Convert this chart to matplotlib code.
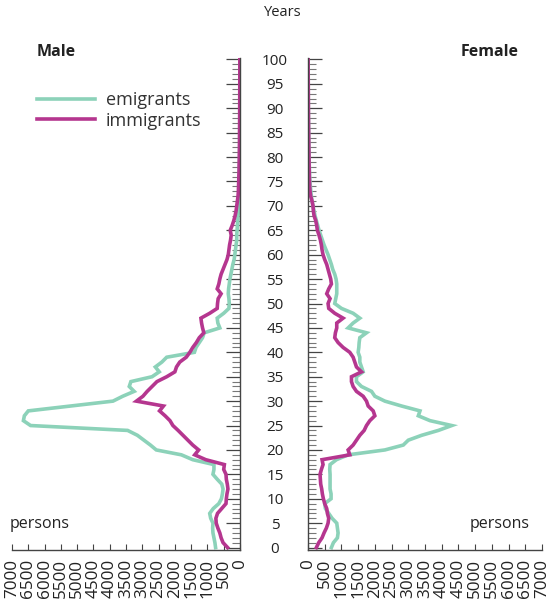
import matplotlib
matplotlib.use("Agg")
import matplotlib.pyplot as plt
from matplotlib.ticker import MultipleLocator

plt.rcParams['font.family'] = ['Open Sans', 'DejaVu Sans']

ages = list(range(0, 101))

male_emigrants = [750, 770, 800, 830, 840, 830, 900, 930, 820, 650,
                  570, 540, 520, 560, 700, 830, 800, 800, 1450, 1800,
                  2570, 2750, 2950, 3150, 3450, 6430, 6650, 6620, 6500, 5200,
                  3900, 3600, 3250, 3400, 3350, 2700, 2480, 2600, 2400, 2250,
                  1400, 1350, 1250, 1150, 1100, 620, 680, 700, 500, 340,
                  330, 340, 360, 350, 330, 310, 280, 250, 220, 180,
                  160, 140, 120, 100, 100, 90, 80, 70, 60, 50,
                  45, 40, 35, 30, 25, 20, 18, 16, 14, 12,
                  10, 10, 9, 8, 8, 7, 6, 6, 5, 5,
                  4, 4, 3, 3, 3, 2, 2, 2, 1, 1, 1]

male_immigrants = [380, 520, 580, 620, 680, 730, 740, 690, 560, 430,
                   420, 400, 370, 390, 420, 430, 500, 480, 1050, 1390,
                   1270, 1450, 1600, 1750, 1900, 2060, 2150, 2300, 2470, 2350,
                   3180, 2980, 2850, 2700, 2550, 2250, 2000, 1950, 1850, 1650,
                   1540, 1450, 1340, 1250, 1110, 1150, 1180, 1200, 930, 700,
                   690, 670, 580, 700, 650, 620, 580, 520, 460, 400,
                   360, 340, 320, 290, 270, 300, 240, 190, 150, 120,
                   100, 80, 60, 50, 45, 40, 35, 30, 28, 25,
                   22, 20, 18, 16, 15, 14, 13, 12, 11, 10,
                   10, 9, 8, 8, 7, 7, 6, 6, 5, 5, 5]

female_emigrants = [700, 760, 880, 900, 880, 860, 720, 620, 520, 500,
                    690, 690, 660, 660, 660, 660, 650, 660, 850, 1200,
                    2300, 2850, 3000, 3400, 3900, 4300, 3650, 3300, 3350, 2800,
                    2300, 2000, 1900, 1600, 1450, 1450, 1650, 1600, 1550, 1550,
                    1500, 1520, 1530, 1550, 1750, 1200, 1350, 1550, 1350, 1000,
                    800, 830, 860, 860, 860, 840, 800, 740, 700, 650,
                    600, 540, 480, 430, 380, 330, 290, 250, 210, 180,
                    150, 120, 100, 85, 70, 60, 50, 45, 40, 35,
                    30, 28, 25, 22, 20, 18, 16, 14, 12, 10,
                    9, 8, 7, 6, 5, 5, 4, 3, 3, 2, 2]

female_immigrants = [250, 320, 420, 480, 550, 600, 620, 580, 560, 500,
                     460, 430, 410, 380, 370, 360, 400, 450, 420, 1250,
                     1200, 1350, 1450, 1550, 1680, 1750, 1850, 2000, 1950, 1800,
                     1750, 1650, 1450, 1350, 1300, 1300, 1600, 1450, 1400, 1350,
                     1250, 1050, 900, 800, 820, 860, 860, 1050, 800, 620,
                     600, 660, 560, 620, 700, 680, 640, 600, 560, 500,
                     450, 420, 400, 370, 330, 280, 260, 230, 180, 160,
                     150, 120, 80, 60, 50, 45, 40, 38, 35, 32,
                     30, 28, 26, 24, 22, 20, 18, 16, 15, 14,
                     13, 12, 11, 10, 9, 8, 7, 6, 5, 5, 5]

x_ticks = list(range(0, 7001, 500))
age_ticks = list(range(0, 101, 5))

TEAL = '#8cd2b9'
MAGENTA = '#b5368f'
SPINE = '#444444'
TXT = '#222222'

W, H = 553, 607
fig = plt.figure(figsize=(W / 100, H / 100), dpi=100)

bottom = (H - 550) / H
height = 492 / H
axL = fig.add_axes([12 / W, bottom, 228 / W, height])
axR = fig.add_axes([308 / W, bottom, 234 / W, height])

lw = 2.6
le, = axL.plot(male_emigrants, ages, color=TEAL, lw=lw, solid_joinstyle='miter')
li, = axL.plot(male_immigrants, ages, color=MAGENTA, lw=lw, solid_joinstyle='miter')
axR.plot(female_emigrants, ages, color=TEAL, lw=lw, solid_joinstyle='miter')
axR.plot(female_immigrants, ages, color=MAGENTA, lw=lw, solid_joinstyle='miter')

for ax in (axL, axR):
    ax.set_ylim(-0.5, 100.3)
    ax.spines['top'].set_visible(False)
    ax.set_xticks(x_ticks)
    ax.set_xticklabels([str(t) for t in x_ticks], rotation=90, fontsize=12.3, color=TXT)
    ax.tick_params(axis='x', direction='in', length=4, width=0.8, color=SPINE, pad=6.5)
    ax.yaxis.set_major_locator(MultipleLocator(5))
    ax.yaxis.set_minor_locator(MultipleLocator(1))
    for s in ax.spines.values():
        s.set_color(SPINE)
        s.set_linewidth(1.0)

axL.set_xlim(7000, 0)
axR.set_xlim(0, 7000)

axL.spines['left'].set_visible(False)
axL.yaxis.tick_right()
axL.set_yticks(age_ticks)
axL.set_yticklabels([str(a) for a in age_ticks], fontsize=11, color=TXT)
axL.tick_params(axis='y', which='major', direction='in', length=10, width=0.9,
                color=SPINE, pad=25.2, right=True, left=False, labelright=True, labelleft=False)
axL.tick_params(axis='y', which='minor', direction='in', length=6, width=0.8,
                color='#777777', right=True, left=False)
for lab in axL.get_yticklabels():
    lab.set_horizontalalignment('center')

axR.spines['right'].set_visible(False)
axR.set_yticks(age_ticks)
axR.set_yticklabels([])
axR.tick_params(axis='y', which='major', direction='in', length=10, width=0.9,
                color=SPINE, left=True, right=False, labelleft=False)
axR.tick_params(axis='y', which='minor', direction='in', length=6, width=0.8,
                color='#777777', left=True, right=False)

fig.text(283 / W, 1 - 13 / H, 'Years', ha='center', va='center', fontsize=10.5, color=TXT)
fig.text(37 / W, 1 - 52 / H, 'Male', ha='left', va='center', fontsize=11.5, fontweight='bold', color=TXT)
fig.text(490 / W, 1 - 52 / H, 'Female', ha='center', va='center', fontsize=11.5, fontweight='bold', color=TXT)
fig.text(10 / W, 1 - 524 / H, 'persons', ha='left', va='center', fontsize=11.5, color=TXT)
fig.text(470 / W, 1 - 524 / H, 'persons', ha='left', va='center', fontsize=11.5, color=TXT)

fig.legend([le, li], ['emigrants', 'immigrants'], loc='upper left',
           bbox_to_anchor=(37 / W, 1 - 91 / H), frameon=False, borderpad=0,
           borderaxespad=0, handlelength=3.2, handletextpad=0.6, labelspacing=0.15,
           prop={'size': 13}, labelcolor='#333333')

fig.savefig('out.png', dpi=100)
